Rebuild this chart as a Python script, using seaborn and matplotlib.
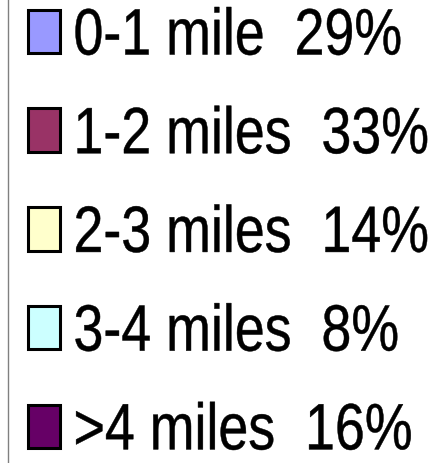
import matplotlib
matplotlib.use("Agg")
import matplotlib.pyplot as plt
from matplotlib import font_manager
from matplotlib.patches import Patch
from matplotlib.patheffects import AbstractPathEffect
from matplotlib.transforms import Affine2D
import seaborn as sns

# ---- data ----
categories = ["0-1 mile", "1-2 miles", "2-3 miles", "3-4 miles", ">4 miles"]
percentages = [29, 33, 14, 8, 16]
colors = ["#9999FF", "#993366", "#FFFFCC", "#CCFFFF", "#660066"]


class HStretch(AbstractPathEffect):
    """Horizontally condense glyphs (narrow-font look) while keeping real text."""

    def __init__(self, sx, lw=0.0):
        super().__init__()
        self.sx = sx
        self.lw = lw

    def draw_path(self, renderer, gc, tpath, affine, rgbFace=None):
        aff = Affine2D().scale(self.sx, 1) + affine
        gc0 = renderer.new_gc()
        gc0.copy_properties(gc)
        if self.lw > 0:
            gc0.set_linewidth(self.lw)
            gc0.set_foreground(rgbFace if rgbFace is not None else "black")
            gc0.set_joinstyle("round")
        renderer.draw_path(gc0, tpath, aff, rgbFace)
        gc0.restore()


sns.set_style("white")
names = {f.name for f in font_manager.fontManager.ttflist}
if "Liberation Sans Narrow" in names:
    family = ["Liberation Sans Narrow", "DejaVu Sans"]
    stretch = 1.0
else:
    family = ["Liberation Sans", "DejaVu Sans"]
    stretch = 0.82
plt.rcParams["font.family"] = family
plt.rcParams["text.color"] = "black"
fsize = 47.2

W, H = 441, 463
fig = plt.figure(figsize=(W / 100, H / 100), dpi=100)
ax = fig.add_axes([8 / W, 0, 1 - 8 / W, 1])
ax.set_xticks([])
ax.set_yticks([])
for s in ["top", "right", "bottom"]:
    ax.spines[s].set_visible(False)
ax.spines["left"].set_color("#808080")
ax.spines["left"].set_linewidth(1.0)

palette = sns.color_palette(colors)
handles = [Patch(facecolor=c, edgecolor="black", linewidth=2.2) for c in palette]
labels = [f"{c}  {p}%" for c, p in zip(categories, percentages)]

fpx = fsize * 100 / 72
leg = fig.legend(
    handles, labels,
    loc="upper left",
    bbox_to_anchor=(27.5 / W, 1 - 6.5 / H),
    bbox_transform=fig.transFigure,
    frameon=False,
    borderpad=0,
    borderaxespad=0,
    fontsize=fsize,
    handlelength=32 / fpx,
    handleheight=42 / fpx,
    handletextpad=14 / fpx,
    labelspacing=0.56,
)
for t in leg.get_texts():
    t.set_color("black")
    t.set_path_effects([HStretch(stretch, lw=0.35)])

fig.savefig("out.png", dpi=100)
